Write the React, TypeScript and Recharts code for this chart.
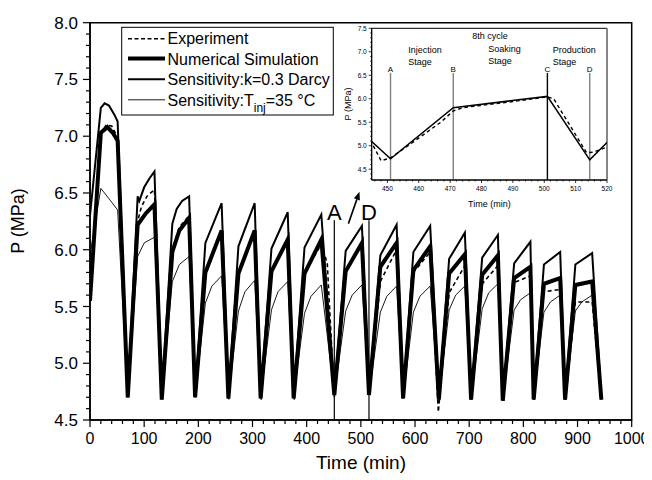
import React from 'react';
import { LineChart, Line, XAxis, YAxis, ReferenceArea, ReferenceLine, ReferenceDot } from 'recharts';

// main chart: four series, time (min) / pressure (MPa)
const expTime = [0, 20, 30, 40, 51, 70.5, 88, 95, 105, 119, 133, 152, 165, 183, 195, 213, 243, 256, 274, 304, 316, 335, 365, 377, 396, 427, 438, 451, 472, 502, 516, 536, 566, 579, 597, 628, 643, 663, 692, 704, 724, 753, 762.5, 783, 813, 820, 838, 868, 878, 896, 927, 944];
const expP = [5.6, 7.02, 7.1, 7.09, 6.99, 4.7, 6.25, 6.38, 6.47, 6.53, 4.68, 6.0, 6.2, 6.3, 4.7, 5.78, 6.16, 4.68, 5.78, 6.15, 4.68, 5.8, 6.08, 4.68, 5.79, 6.05, 5.88, 4.7, 5.8, 6.05, 4.74, 5.72, 6.0, 4.7, 5.8, 5.98, 4.57, 5.62, 5.86, 4.68, 5.7, 5.86, 4.67, 5.71, 5.77, 4.68, 5.63, 5.65, 4.68, 5.54, 5.54, 4.68];

const simTime = [0, 20, 32, 42, 51, 69.7, 88, 103, 119, 132.5, 152, 165, 183, 194, 213, 243, 255.5, 274, 304, 315, 335, 365, 376, 396, 427, 451, 472, 502, 515, 536, 566, 578, 597, 628, 644, 663, 692, 703.5, 724, 753, 762, 783, 813, 819, 838, 868, 877, 896, 927, 944];
const simP = [5.55, 7.03, 7.08, 7.03, 6.96, 4.7, 6.22, 6.32, 6.4, 4.68, 5.98, 6.17, 6.28, 4.7, 5.8, 6.17, 4.69, 5.79, 6.17, 4.69, 5.81, 6.09, 4.69, 5.79, 6.09, 4.72, 5.81, 6.06, 4.72, 5.85, 6.06, 4.69, 5.82, 6.03, 4.68, 5.79, 5.96, 4.68, 5.78, 5.95, 4.67, 5.75, 5.85, 4.68, 5.7, 5.75, 4.68, 5.69, 5.72, 4.68];

const kTime = [0, 20, 27, 35, 45, 51, 69.7, 88, 91, 100, 110, 119, 132.5, 152, 160, 170, 183, 194, 213, 243, 255.5, 274, 304, 315, 335, 365, 376, 396, 427, 451, 472, 502, 515, 536, 566, 578, 597, 628, 644, 663, 692, 703.5, 724, 753, 762, 783, 813, 819, 838, 868, 877, 896, 927, 944];
const kP = [6.3, 7.25, 7.29, 7.27, 7.19, 7.13, 4.7, 6.47, 6.43, 6.55, 6.63, 6.69, 4.69, 6.23, 6.36, 6.43, 6.47, 4.7, 6.06, 6.41, 4.69, 6.03, 6.41, 4.7, 6.01, 6.33, 4.7, 6.02, 6.31, 4.72, 5.99, 6.21, 4.72, 5.95, 6.22, 4.69, 5.98, 6.21, 4.68, 5.92, 6.15, 4.69, 5.93, 6.13, 4.68, 5.88, 6.07, 4.68, 5.87, 5.98, 4.68, 5.87, 5.97, 4.68];

const tinjTime = [0, 20, 35, 51, 69.7, 88, 100, 119, 132.5, 152, 165, 183, 194, 213, 225, 243, 255.5, 274, 286, 304, 315, 335, 347, 365, 376, 396, 408, 427, 451, 472, 484, 502, 515, 536, 548, 566, 578, 597, 609, 628, 644, 663, 675, 692, 703.5, 724, 736, 753, 762, 783, 795, 813, 819, 838, 850, 868, 877, 896, 908, 927, 944];
const tinjP = [5.95, 6.54, 6.45, 6.35, 4.7, 5.94, 6.06, 6.11, 4.68, 5.72, 5.87, 5.94, 4.7, 5.53, 5.68, 5.77, 4.69, 5.46, 5.63, 5.73, 4.7, 5.47, 5.63, 5.72, 4.7, 5.44, 5.59, 5.69, 4.72, 5.46, 5.6, 5.69, 4.72, 5.45, 5.59, 5.68, 4.69, 5.45, 5.59, 5.68, 4.68, 5.47, 5.6, 5.68, 4.68, 5.48, 5.62, 5.7, 4.67, 5.47, 5.56, 5.62, 4.68, 5.45, 5.54, 5.6, 4.68, 5.46, 5.54, 5.6, 4.68];

// inset: 8th cycle
const insetSimTime = [445, 451, 471, 501, 514.5, 520];
const insetSimP = [5.09, 4.72, 5.81, 6.05, 4.7, 5.07];
const insetExpTime = [445.5, 448, 451, 457, 467, 471, 474, 490, 501, 503, 513.5, 515.5, 520];
const insetExpP = [5.0, 4.68, 4.74, 5.02, 5.5, 5.74, 5.81, 5.94, 6.04, 6.0, 4.85, 4.86, 4.97];
const insetStages = ['A', 'B', 'C', 'D'];
const insetStageTime = [451, 471, 501, 514.5];

const xTicks = Array.from({ length: 51 }, (_, i) => i * 20);
const yTicks = Array.from({ length: 36 }, (_, i) => +(4.5 + i * 0.1).toFixed(1));
const insetXTicks = Array.from({ length: 38 }, (_, i) => 446 + i * 2);
const insetYTicks = Array.from({ length: 33 }, (_, i) => +(4.3 + i * 0.1).toFixed(1));

const zip = (t: number[], p: number[]) => t.map((v, i) => ({ t: v, p: p[i] }));

const isHalf = (v: number) => Math.abs(v * 2 - Math.round(v * 2)) < 1e-6;

const MainXTick = ({ x, y, payload }: any) => {
  const major = payload.value % 100 === 0;
  return (
    <g>
      <line x1={x} x2={x} y1={y} y2={y + (major ? 7 : 4)} stroke="#000" strokeWidth={1.2} />
      {major && (
        <text x={x} y={y + 13} dy="0.71em" textAnchor="middle" fontSize={16} fill="#000">
          {payload.value}
        </text>
      )}
    </g>
  );
};

const MainYTick = ({ x, y, payload }: any) => {
  const major = isHalf(payload.value);
  return (
    <g>
      <line x1={x} x2={x - (major ? 7 : 4)} y1={y} y2={y} stroke="#000" strokeWidth={1.2} />
      {major && (
        <text x={x - 12} y={y} dy="0.355em" textAnchor="end" fontSize={17} fill="#000">
          {payload.value.toFixed(1)}
        </text>
      )}
    </g>
  );
};

const InsetXTick = ({ x, y, payload }: any) => {
  const major = payload.value % 10 === 0;
  return (
    <g>
      <line x1={x} x2={x} y1={y} y2={y + (major ? 3 : 1.5)} stroke="#000" strokeWidth={0.8} />
      {major && (
        <text x={x} y={y + 6} dy="0.71em" textAnchor="middle" fontSize={6.5} fill="#000">
          {payload.value}
        </text>
      )}
    </g>
  );
};

const InsetYTick = ({ x, y, payload }: any) => {
  const major = isHalf(payload.value);
  return (
    <g>
      <line x1={x} x2={x - (major ? 3 : 1.5)} y1={y} y2={y} stroke="#000" strokeWidth={0.8} />
      {major && (
        <text x={x - 5} y={y} dy="0.355em" textAnchor="end" fontSize={6.5} fill="#000">
          {payload.value.toFixed(1)}
        </text>
      )}
    </g>
  );
};

const Arrow = ({ x1, y1, x2, y2 }: any) => {
  const a = Math.atan2(y2 - y1, x2 - x1);
  const bx = x2 - 8 * Math.cos(a);
  const by = y2 - 8 * Math.sin(a);
  const w = 3.2;
  const pts = `${x2},${y2} ${bx - w * Math.sin(a)},${by + w * Math.cos(a)} ${bx + w * Math.sin(a)},${by - w * Math.cos(a)}`;
  return (
    <g>
      <line x1={x1} y1={y1} x2={bx} y2={by} stroke="#000" strokeWidth={1.6} />
      <polygon points={pts} fill="#000" />
    </g>
  );
};

export default function App() {
  return (
    <div
      style={{
        position: 'relative',
        width: 652,
        height: 480,
        margin: '-8px 0 0 -8px',
        background: '#fff',
        fontFamily: 'Arial, "Liberation Sans", sans-serif',
      }}
    >
      <div style={{ position: 'absolute', left: 0, top: 0 }}>
        <LineChart width={652} height={480} margin={{ top: 22.7, right: 20.3, bottom: 20, left: 40 }}>
          <XAxis
            type="number"
            dataKey="t"
            domain={[0, 1000]}
            ticks={xTicks}
            interval={0}
            allowDataOverflow
            height={40}
            tickLine={false}
            tickSize={0}
            tickMargin={0}
            tick={<MainXTick />}
            axisLine={{ stroke: '#000', strokeWidth: 1.5 }}
          />
          <YAxis
            type="number"
            domain={[4.5, 8]}
            ticks={yTicks}
            interval={0}
            allowDataOverflow
            width={50}
            tickLine={false}
            tickSize={0}
            tickMargin={0}
            tick={<MainYTick />}
            axisLine={{ stroke: '#000', strokeWidth: 1.5 }}
          />
          <ReferenceArea x1={0} x2={1000} y1={4.5} y2={8} fill="none" stroke="#000" strokeWidth={1.5} />
          <Line data={zip(tinjTime, tinjP)} dataKey="p" type="linear" stroke="#000" strokeWidth={0.9} dot={false} activeDot={false} isAnimationActive={false} />
          <Line data={zip(kTime, kP)} dataKey="p" type="linear" stroke="#000" strokeWidth={2} dot={false} activeDot={false} isAnimationActive={false} />
          <Line data={zip(simTime, simP)} dataKey="p" type="linear" stroke="#000" strokeWidth={4} dot={false} activeDot={false} isAnimationActive={false} />
          <Line data={zip(expTime, expP)} dataKey="p" type="linear" stroke="#000" strokeWidth={1.6} strokeDasharray="4 3" dot={false} activeDot={false} isAnimationActive={false} />
          <ReferenceLine segment={[{ x: 451, y: 4.5 }, { x: 451, y: 6.26 }]} stroke="#000" strokeWidth={1.2} />
          <ReferenceLine segment={[{ x: 515, y: 4.5 }, { x: 515, y: 6.26 }]} stroke="#000" strokeWidth={1.2} />
          <ReferenceDot x={451} y={6.26} r={0} stroke="none" label={{ value: 'A', position: 'top', offset: 0, fontSize: 22, fill: '#000' }} />
          <ReferenceDot x={515} y={6.26} r={0} stroke="none" label={{ value: 'D', position: 'top', offset: 0, fontSize: 22, fill: '#000' }} />
          <ReferenceLine segment={[{ x: 477, y: 6.23 }, { x: 497.5, y: 6.51 }]} shape={(p: any) => <Arrow {...p} />} />
        </LineChart>
      </div>

      <div style={{ position: 'absolute', left: 336, top: 20 }}>
        <LineChart width={284} height={200} margin={{ top: 8.3, right: 13, bottom: 0, left: 10.7 }}>
          <XAxis
            type="number"
            dataKey="t"
            domain={[445, 520]}
            ticks={insetXTicks}
            interval={0}
            allowDataOverflow
            height={40}
            tickLine={false}
            tickSize={0}
            tickMargin={0}
            tick={<InsetXTick />}
            axisLine={{ stroke: '#000', strokeWidth: 1 }}
          />
          <YAxis
            type="number"
            domain={[4.27, 7.5]}
            ticks={insetYTicks}
            interval={0}
            allowDataOverflow
            width={25}
            tickLine={false}
            tickSize={0}
            tickMargin={0}
            tick={<InsetYTick />}
            axisLine={{ stroke: '#000', strokeWidth: 1 }}
          />
          <ReferenceArea x1={445} x2={520} y1={4.27} y2={7.5} fill="none" stroke="#000" strokeWidth={1} />
          <ReferenceLine segment={[{ x: 520, y: 4.27 }, { x: 520, y: 7.5 }]} stroke="#888" strokeWidth={1.5} />
          {insetStageTime.map((t, i) => (
            <ReferenceLine
              key={insetStages[i]}
              segment={[{ x: t, y: 4.27 }, { x: t, y: 6.55 }]}
              stroke={insetStages[i] === 'C' ? '#000' : '#808080'}
              strokeWidth={1.4}
            />
          ))}
          {insetStageTime.map((t, i) => (
            <ReferenceDot
              key={'l' + insetStages[i]}
              x={t}
              y={6.55}
              r={0}
              stroke="none"
              label={{ value: insetStages[i], position: 'top', offset: 0.5, fontSize: 8, fill: '#000' }}
            />
          ))}
          <Line data={zip(insetSimTime, insetSimP)} dataKey="p" type="linear" stroke="#000" strokeWidth={1.5} dot={false} activeDot={false} isAnimationActive={false} />
          <Line data={zip(insetExpTime, insetExpP)} dataKey="p" type="linear" stroke="#000" strokeWidth={1.4} strokeDasharray="3.5 3" dot={false} activeDot={false} isAnimationActive={false} />
        </LineChart>
      </div>

      <svg
        width={652}
        height={480}
        style={{ position: 'absolute', left: 0, top: 0, pointerEvents: 'none' }}
        fontFamily='Arial, "Liberation Sans", sans-serif'
      >
        <text x={24} y={221} transform="rotate(-90, 24, 221)" textAnchor="middle" fontSize={18}>P (MPa)</text>
        <text x={361} y={468.6} textAnchor="middle" fontSize={19}>Time (min)</text>

        <rect x={121.7} y={27.3} width={211.6} height={87.7} fill="#fff" stroke="#000" strokeWidth={1} />
        <line x1={128} x2={165} y1={38.7} y2={38.7} stroke="#000" strokeWidth={1.5} strokeDasharray="4 2.5" />
        <text x={167.5} y={44.4} fontSize={16}>Experiment</text>
        <line x1={128} x2={165} y1={58.5} y2={58.5} stroke="#000" strokeWidth={4} />
        <text x={167.5} y={64.7} fontSize={16}>Numerical Simulation</text>
        <line x1={128} x2={165} y1={79.2} y2={79.2} stroke="#000" strokeWidth={2} />
        <text x={167.5} y={85.4} fontSize={16}>Sensitivity:k=0.3 Darcy</text>
        <line x1={128} x2={165} y1={99.8} y2={99.8} stroke="#000" strokeWidth={0.9} />
        <text x={167.5} y={106} fontSize={16}>
          Sensitivity:T
          <tspan dy={5.5} fontSize={12}>inj</tspan>
          <tspan dy={-5.5}>=35 °C</tspan>
        </text>

        <text x={350.5} y={104} transform="rotate(-90, 350.5, 104)" textAnchor="middle" fontSize={9}>P (MPa)</text>
        <text x={489.4} y={207} textAnchor="middle" fontSize={9}>Time (min)</text>
        <text x={490} y={38.5} textAnchor="middle" fontSize={9}>8th cycle</text>
        <text x={408.3} y={53} fontSize={9}>Injection</text>
        <text x={408.3} y={64.7} fontSize={9}>Stage</text>
        <text x={488.3} y={52} fontSize={9}>Soaking</text>
        <text x={488.3} y={63.5} fontSize={9}>Stage</text>
        <text x={552.7} y={53} fontSize={9}>Production</text>
        <text x={552.7} y={64.7} fontSize={9}>Stage</text>
      </svg>
    </div>
  );
}
